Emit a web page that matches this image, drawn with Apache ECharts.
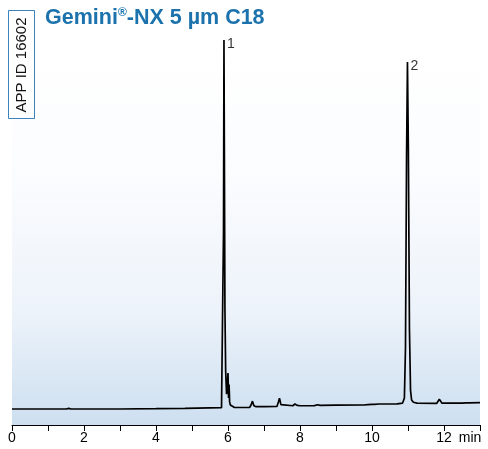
<!DOCTYPE html>
<html><head><meta charset="utf-8">
<script src="https://cdn.jsdelivr.net/npm/echarts@6/dist/echarts.min.js"></script>
<style>html,body{margin:0;padding:0;background:#fff}#c{width:488px;height:449px}</style>
</head><body><div id="c"></div>
<script>
const times = [0,1.5,1.58,1.61,1.64,1.85,1.88,1.91,3.0,4.0,4.8,4.85,5.82,5.86,5.875,5.888,5.90,5.915,5.935,5.96,5.98,6.0,6.015,6.03,6.045,6.065,6.1,6.17,6.3,6.6,6.64,6.68,6.72,6.78,7.0,7.36,7.4,7.43,7.47,7.52,7.8,7.86,7.92,8.0,8.4,8.49,8.56,9.0,9.78,9.83,9.88,10.0,10.03,10.06,10.2,10.55,10.6,10.7,10.74,10.85,10.9,10.93,10.96,10.985,11.01,11.04,11.07,11.1,11.15,11.25,11.8,11.87,11.94,12.4,12.45,12.5,12.62,12.66,12.7,13.0];
const signal = [4.16,4.16,4.3,4.4,4.16,4.16,4.35,4.16,4.16,4.23,4.3,4.47,4.5,4.8,50,100,70,30,14,8,10,13.5,7,10.5,6,5.2,4.8,4.6,4.55,4.55,5.2,6.2,5.0,4.75,4.75,4.8,6.0,6.94,5.3,5.0,5.0,5.45,5.1,5.0,5.05,5.25,5.1,5.15,5.2,5.7,5.3,5.37,5.55,5.37,5.45,5.45,5.6,5.5,5.65,5.7,7.0,20,70,94.3,72,25,9,6.5,5.9,5.7,5.64,6.68,5.7,5.7,5.85,5.7,5.75,5.9,5.75,5.8];
const peakTimes = [5.888, 10.985];
const peakHeights = [100, 94.3];
const peakNames = ['1', '2'];
const xTicks = [0,2,4,6,8,10,12];
const appId = 'APP ID 16602';

const line = times.map((t,i)=>[t, signal[i]]);
const peaks = peakTimes.map((t,i)=>({value:[t, peakHeights[i]], name: peakNames[i]}));
const FF = 'Liberation Sans, Arial, Helvetica, sans-serif';

const chart = echarts.init(document.getElementById('c'), null, {renderer:'canvas'});
chart.setOption({
  animation:false,
  grid:{left:12, right:8, top:40, bottom:24, show:true, borderWidth:0,
    backgroundColor:{type:'linear',x:0,y:0,x2:0,y2:1,colorStops:[
      {offset:0,color:'#ffffff'},{offset:0.35,color:'#fbfcfe'},{offset:0.7,color:'#edf3fa'},{offset:1,color:'#cddff0'}]}},
  xAxis:{type:'value', min:0, max:13, interval:1,
    axisLine:{show:true, onZero:false, lineStyle:{color:'#000', width:1}},
    axisTick:{show:true, inside:false, length:6, lineStyle:{color:'#000', width:1}},
    axisLabel:{color:'#000', fontSize:14, fontFamily:FF, margin:6,
      formatter:v=> xTicks.indexOf(v)>=0 ? String(v) : ''},
    splitLine:{show:false}},
  yAxis:{type:'value', min:0, max:100, show:false},
  series:[
    {type:'line', data:line, symbol:'none', lineStyle:{color:'#000', width:1.7}, z:3},
    {type:'scatter', data:peaks, symbolSize:0, z:4,
      label:{show:true, position:'right', distance:3, offset:[0,4], formatter:p=>p.name, color:'#000', fontSize:14, fontFamily:FF}}
  ],
  graphic:[
    {type:'text', left:45, top:7, style:{
      text:'{t|Gemini}{s|®}{t|-NX 5 µm C18}',
      rich:{t:{fontSize:21.5, fontWeight:'bold', fill:'#1b72ad', fontFamily:FF, verticalAlign:'bottom'},
            s:{fontSize:12, fontWeight:'bold', fill:'#1b72ad', fontFamily:FF, verticalAlign:'top', padding:[0,0,9,0]}}}},
    {type:'rect', shape:{x:8.5, y:10.5, width:26, height:108}, style:{fill:'none', stroke:'#3a83bd', lineWidth:1}},
    {type:'text', x:21.5, y:65, rotation:Math.PI/2, style:{text:appId, fontSize:15, fill:'#111', align:'center', verticalAlign:'middle', fontFamily:FF}},
    {type:'text', x:470, y:438, style:{text:'min', fontSize:14, fill:'#000', align:'center', verticalAlign:'middle', fontFamily:FF}}
  ]
});
</script></body></html>
